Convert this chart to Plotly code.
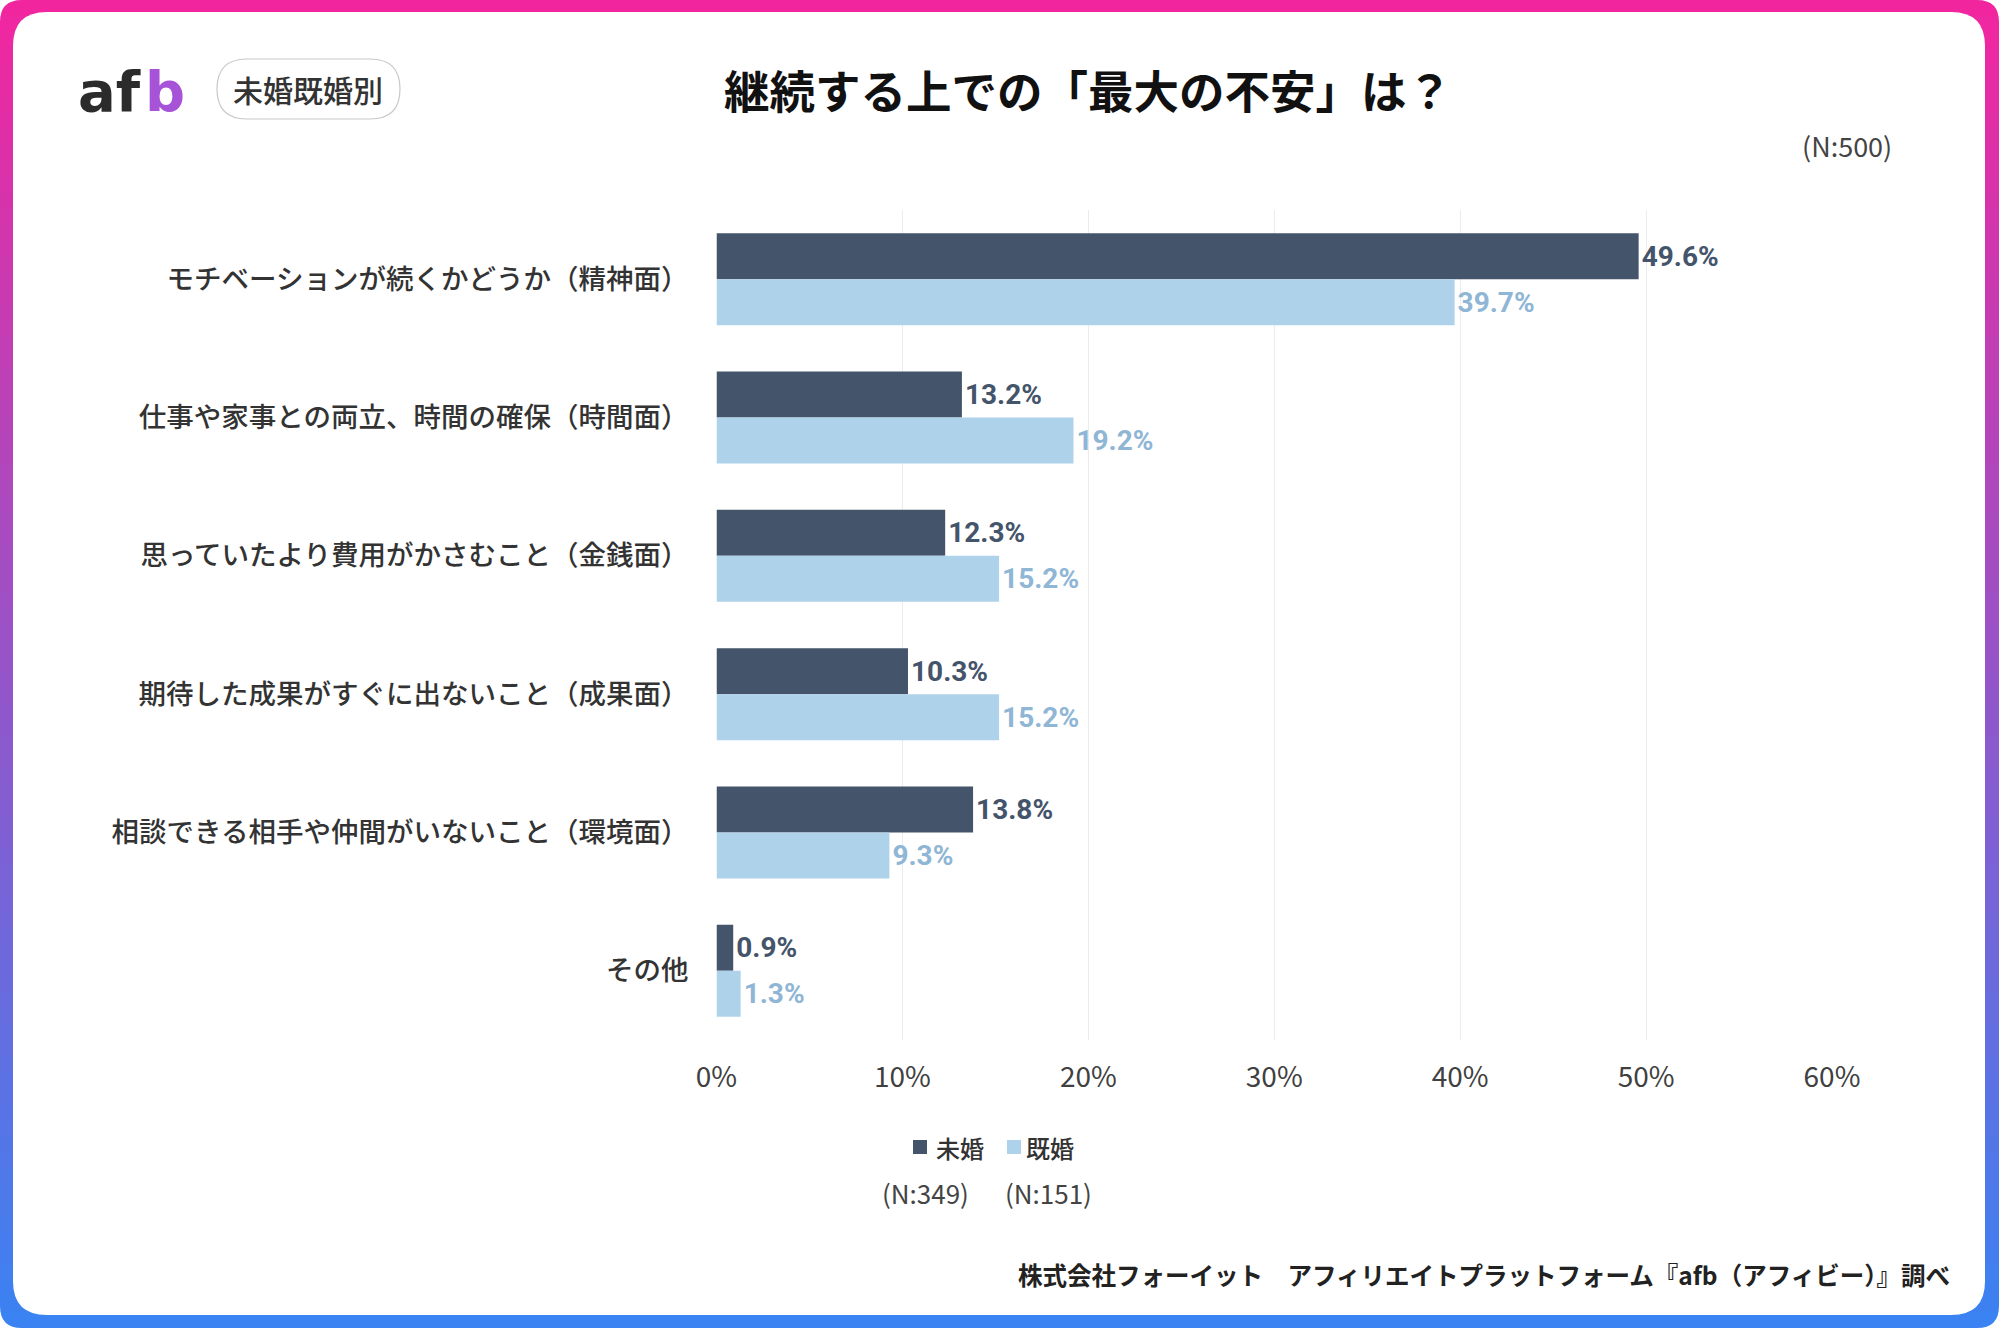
import plotly.graph_objects as go

W, H = 1999, 1328

categories = [
    "モチベーションが続くかどうか（精神面）",
    "仕事や家事との両立、時間の確保（時間面）",
    "思っていたより費用がかさむこと（金銭面）",
    "期待した成果がすぐに出ないこと（成果面）",
    "相談できる相手や仲間がいないこと（環境面）",
    "その他",
]
series_names = ["未婚", "既婚"]
unmarried = [49.6, 13.2, 12.3, 10.3, 13.8, 0.9]
married = [39.7, 19.2, 15.2, 15.2, 9.3, 1.3]
x_ticks = [0, 10, 20, 30, 40, 50, 60]
x_tick_labels = ["0%", "10%", "20%", "30%", "40%", "50%", "60%"]
sample_sizes = ["(N:349)", "(N:151)"]

DARK = "#44546a"
LIGHT = "#aed2ea"
LIGHT_TXT = "#8fb6d5"
JP = "Noto Sans CJK JP"


def px(x):
    return x / W


def py(y):
    return 1 - y / H


fig = go.Figure()
fig.add_trace(go.Bar(
    y=categories, x=unmarried, name=series_names[0], orientation="h",
    marker=dict(color=DARK, line=dict(width=0)),
    texttemplate="%{x:.1f}%", textposition="outside", cliponaxis=False,
    textfont=dict(family="Roboto", size=28, color=DARK, weight="bold"),
    showlegend=False,
))
fig.add_trace(go.Bar(
    y=categories, x=married, name=series_names[1], orientation="h",
    marker=dict(color=LIGHT, line=dict(width=0)),
    texttemplate="%{x:.1f}%", textposition="outside", cliponaxis=False,
    textfont=dict(family="Roboto", size=28, color=LIGHT_TXT, weight="bold"),
    showlegend=False,
))

shapes = []
# gradient border (stripes)
c1 = (241, 38, 159)
c2 = (59, 130, 242)
n = 83
for i in range(n):
    t = i / (n - 1)
    col = tuple(round(c1[k] + (c2[k] - c1[k]) * t) for k in range(3))
    y0 = i * H / n
    y1 = (i + 1) * H / n + 1
    shapes.append(dict(type="rect", xref="paper", yref="paper", layer="below",
                       x0=0, x1=1, y0=py(y1), y1=py(y0),
                       fillcolor="rgb(%d,%d,%d)" % col, line=dict(width=0)))


def rrect(x0, y0, x1, y1, r):
    return ("M{a},{b} L{c},{b} Q{x1},{b} {x1},{d} L{x1},{e} Q{x1},{f} {c},{f} "
            "L{a},{f} Q{x0},{f} {x0},{e} L{x0},{d} Q{x0},{b} {a},{b} Z").format(
        a=px(x0 + r), b=py(y0), c=px(x1 - r), d=py(y0 + r), e=py(y1 - r),
        f=py(y1), x0=px(x0), x1=px(x1))


# white outer corners
R = 22
corners = [
    "M{},{} L{},{} Q{},{} {},{} Z".format(px(0), py(0), px(R), py(0), px(0), py(0), px(0), py(R)),
    "M{},{} L{},{} Q{},{} {},{} Z".format(px(W), py(0), px(W - R), py(0), px(W), py(0), px(W), py(R)),
    "M{},{} L{},{} Q{},{} {},{} Z".format(px(0), py(H), px(R), py(H), px(0), py(H), px(0), py(H - R)),
    "M{},{} L{},{} Q{},{} {},{} Z".format(px(W), py(H), px(W - R), py(H), px(W), py(H), px(W), py(H - R)),
]
for p in corners:
    shapes.append(dict(type="path", path=p, xref="paper", yref="paper", layer="below",
                       fillcolor="white", line=dict(width=0)))
# inner white card
shapes.append(dict(type="path", path=rrect(13, 12, 1985, 1315, 34), xref="paper", yref="paper",
                   layer="below", fillcolor="white", line=dict(width=0)))
# pill
shapes.append(dict(type="path", path=rrect(217, 59, 400, 119, 30), xref="paper", yref="paper",
                   layer="below", fillcolor="white", line=dict(width=1.2, color="#c8c8c8")))
# legend squares
shapes.append(dict(type="rect", xref="paper", yref="paper", x0=px(913), x1=px(927),
                   y0=py(1154), y1=py(1140), fillcolor=DARK, line=dict(width=0)))
shapes.append(dict(type="rect", xref="paper", yref="paper", x0=px(1007), x1=px(1021),
                   y0=py(1154), y1=py(1140), fillcolor=LIGHT, line=dict(width=0)))

annotations = [
    dict(text="継続する上での「最大の不安」は？", x=px(1088), y=py(89), xanchor="center", yanchor="middle",
         font=dict(family=JP, size=45.5, color="#111111", weight="bold")),
    dict(text="未婚既婚別", x=px(308), y=py(89), xanchor="center", yanchor="middle",
         font=dict(family=JP, size=30, color="#333333", weight=500)),
    dict(text="af", x=px(76), y=py(92), xanchor="left", yanchor="middle",
         font=dict(family="DejaVu Sans", size=56, color="#2b2b2b", weight="bold")),
    dict(text="b", x=px(143), y=py(92), xanchor="left", yanchor="middle",
         font=dict(family="DejaVu Sans", size=56, color="#a653d8", weight="bold")),
    dict(text="(N:500)", x=px(1894), y=py(145), xanchor="right", yanchor="middle",
         font=dict(family=JP, size=27, color="#444444")),
    dict(text=series_names[0], x=px(934), y=py(1147), xanchor="left", yanchor="middle",
         font=dict(family=JP, size=24, color="#333333", weight=500)),
    dict(text=series_names[1], x=px(1024), y=py(1147), xanchor="left", yanchor="middle",
         font=dict(family=JP, size=24, color="#333333", weight=500)),
    dict(text=sample_sizes[0], x=px(925), y=py(1192), xanchor="center", yanchor="middle",
         font=dict(family=JP, size=26, color="#444444")),
    dict(text=sample_sizes[1], x=px(1048), y=py(1192), xanchor="center", yanchor="middle",
         font=dict(family=JP, size=26, color="#444444")),
    dict(text="株式会社フォーイット　アフィリエイトプラットフォーム『afb（アフィビー）』調べ",
         x=px(1952), y=py(1274), xanchor="right", yanchor="middle",
         font=dict(family=JP, size=24.5, color="#222222", weight="bold")),
]
for a in annotations:
    a.update(xref="paper", yref="paper", showarrow=False)

fig.update_layout(
    width=W, height=H,
    margin=dict(l=0, r=0, t=0, b=0, pad=0, autoexpand=False),
    template="none",
    paper_bgcolor="white", plot_bgcolor="rgba(0,0,0,0)",
    barmode="group", bargap=0.335, bargroupgap=0,
    showlegend=False,
    shapes=shapes, annotations=annotations,
    xaxis=dict(domain=[px(716.5), px(1832)], range=[0, 60], tickvals=x_ticks, ticktext=x_tick_labels,
               showgrid=True, gridcolor="#ececec", gridwidth=1, zeroline=False, showline=False,
               ticks="", automargin=False, ticklabelstandoff=18,
               tickfont=dict(family=JP, size=28, color="#404040")),
    yaxis=dict(domain=[py(1040), py(210)], range=[5.5, -0.5], type="category",
               showgrid=False, zeroline=False, showline=False, ticks="", automargin=False,
               ticklabelstandoff=27,
               tickfont=dict(family=JP, size=27.5, color="#333333", weight=500)),
)

fig.write_html("out.html")
